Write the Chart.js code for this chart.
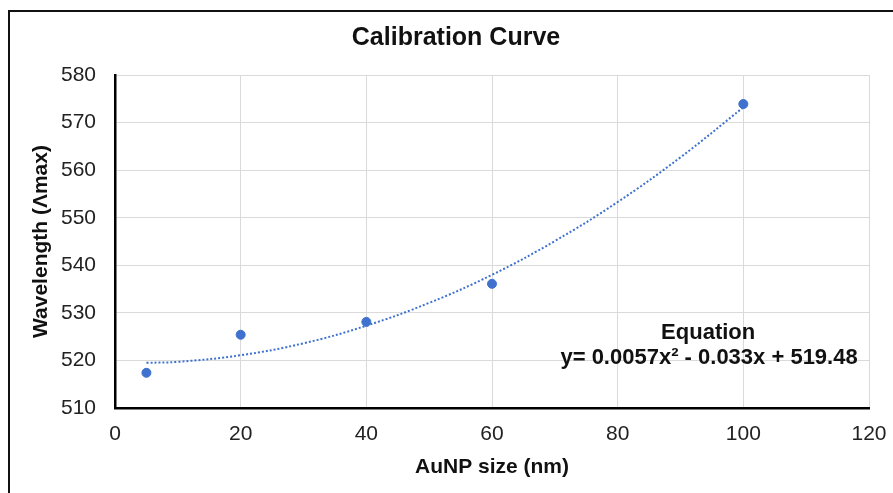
<!DOCTYPE html>
<html lang="en">
<head>
    <meta charset="UTF-8">
    <script src="https://cdn.jsdelivr.net/npm/chart.js"></script>
    <title>Calibration Curve</title>
    <style>
      html, body { margin: 0; padding: 0; background: #fff; }
    </style>
</head>
<body>
  <div style="width: 893px; height: 493px;">
        <canvas id="grafico1"></canvas>
  </div>

    <script>
        // measured points
        let tamanhos = [5, 20, 40, 60, 100]
        let comprimentos = [517.4, 525.4, 528.1, 536.1, 573.9]

        // dotted trendline
        let tendX = [5, 10, 20, 30, 40, 50, 60, 70, 80, 90, 100]
        let tendY = [519.5, 519.7, 521.1, 523.6, 527.3, 532.1, 538.0, 545.1, 553.3, 562.7, 573.2]

        let eixoXTicks = [0, 20, 40, 60, 80, 100, 120]
        let eixoYTicks = [510, 520, 530, 540, 550, 560, 570, 580]

        const azul = '#3f72cf'
        const fonte = '"Liberation Sans", Arial, sans-serif'

        // white background, left/top frame and the title
        const moldura = {
          id: 'moldura',
          beforeDraw(chart) {
            const c = chart.ctx
            c.save()
            c.fillStyle = '#fff'
            c.fillRect(0, 0, chart.width, chart.height)
            c.strokeStyle = '#111'
            c.lineWidth = 2
            c.beginPath()
            c.moveTo(9, chart.height)
            c.lineTo(9, 11)
            c.lineTo(chart.width, 11)
            c.stroke()
            c.fillStyle = '#111'
            c.font = 'bold 25px ' + fonte
            c.textAlign = 'center'
            c.textBaseline = 'middle'
            c.fillText('Calibration Curve', 456, 38)
            c.restore()
          }
        }

        // equation text box
        const equacao = {
          id: 'equacao',
          afterDraw(chart) {
            const c = chart.ctx
            const sx = chart.scales.x, sy = chart.scales.y
            c.save()
            c.fillStyle = '#111'
            c.font = 'bold 22px ' + fonte
            c.textBaseline = 'middle'
            c.textAlign = 'center'
            c.fillText('Equation', sx.getPixelForValue(94.4), sy.getPixelForValue(525.8))
            c.textAlign = 'right'
            c.fillText('y= 0.0057x² - 0.033x + 519.48', sx.getPixelForValue(118.2), sy.getPixelForValue(520.5))
            c.restore()
          }
        }

        const ctx = document.getElementById('grafico1')

        let grafico1 = new Chart(ctx, {
          type: 'scatter',
          data: {
            datasets: [{
              label: 'Tendência',
              data: tendX.map((x, i) => ({x: x, y: tendY[i]})),
              showLine: true,
              borderColor: azul,
              borderWidth: 2,
              borderDash: [2, 2],
              pointRadius: 0,
              tension: 0.4,
              fill: false
            }, {
              label: 'AuNP',
              data: tamanhos.map((x, i) => ({x: x, y: comprimentos[i]})),
              backgroundColor: azul,
              borderColor: azul,
              pointRadius: 4.5,
              showLine: false
            }]
          },
          options: {
            responsive: true,
            maintainAspectRatio: false,
            animation: false,
            layout: { padding: { left: 29, right: 24, top: 75, bottom: 13 } },
            plugins: {
              legend: { display: false },
              tooltip: { enabled: false },
              title: { display: false }
            },
            scales: {
              x: {
                type: 'linear',
                min: 0, max: 120,
                afterFit(s) { s.height = 72; s.paddingLeft = 0; s.paddingRight = 0 },
                afterBuildTicks(s) { s.ticks = eixoXTicks.map(v => ({value: v})) },
                grid: { color: '#dadada', lineWidth: 1, drawTicks: false },
                border: { color: '#000', width: 2.5 },
                ticks: {
                  color: '#222',
                  padding: 14,
                  font: { family: fonte, size: 21 }
                },
                title: {
                  display: true,
                  text: 'AuNP size (nm)',
                  color: '#111',
                  font: { family: fonte, size: 21, weight: 'bold' },
                  padding: { top: 0, bottom: 0 }
                }
              },
              y: {
                type: 'linear',
                min: 510, max: 580,
                afterFit(s) { s.width = 86; s.paddingTop = 0; s.paddingBottom = 0 },
                afterBuildTicks(s) { s.ticks = eixoYTicks.map(v => ({value: v})) },
                grid: { color: '#dadada', lineWidth: 1, drawTicks: false },
                border: { color: '#000', width: 2.5 },
                ticks: {
                  color: '#222',
                  padding: 19,
                  font: { family: fonte, size: 21 }
                },
                title: {
                  display: true,
                  text: 'Wavelength (Λmax)',
                  color: '#111',
                  font: { family: fonte, size: 21, weight: 'bold' },
                  padding: { top: 0, bottom: 0 }
                }
              }
            }
          },
          plugins: [moldura, equacao]
        })
      </script>
</body>
</html>
